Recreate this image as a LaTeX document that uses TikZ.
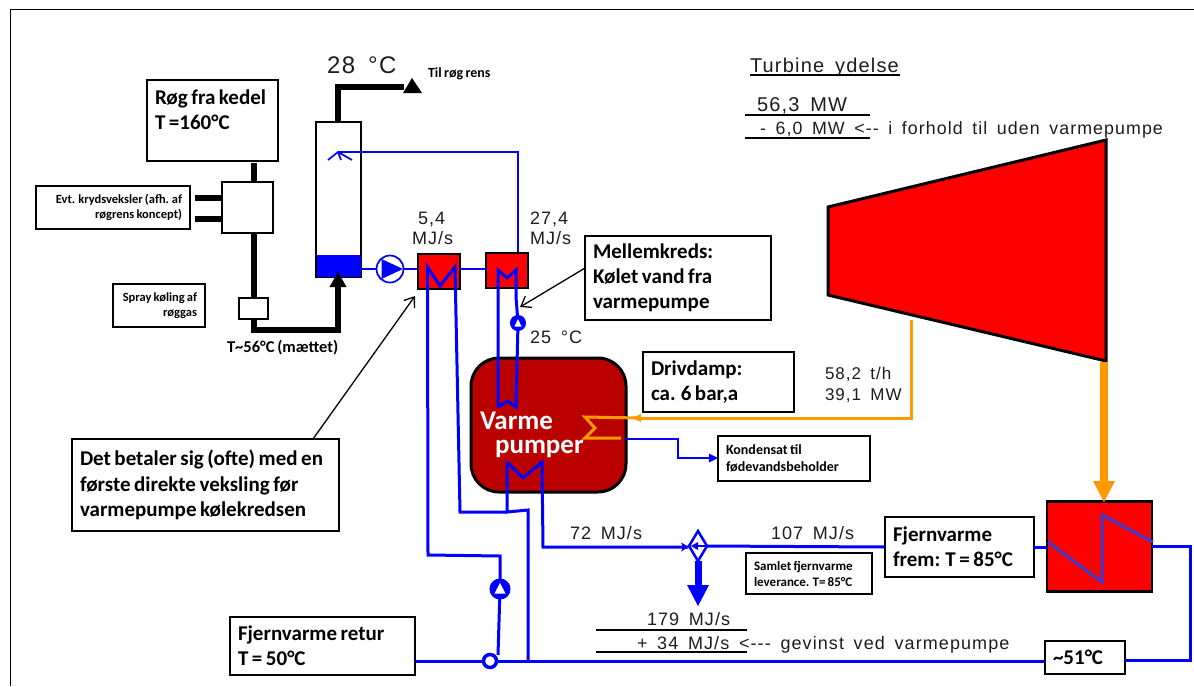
\documentclass[tikz,border=0pt]{standalone}
\usepackage{fontspec}
\setmainfont{Carlito}[WordSpace=0.75]
\newfontfamily\arialfont[LetterSpace=6,WordSpace=1.6]{Liberation Sans}
\usetikzlibrary{arrows.meta,calc}
\definecolor{fvblue}{HTML}{0000FF}
\definecolor{hxred}{HTML}{FF0000}
\definecolor{hpred}{HTML}{BB0000}
\definecolor{steam}{HTML}{FF9900}
\definecolor{coil}{HTML}{3A3ACF}
\definecolor{inktext}{HTML}{1C1C1C}
\newcommand{\lbox}[7]{% name,x1,y1,x2,y2,style,text
  \pgfmathsetlengthmacro{\bw}{(#4-#2)*1pt}%
  \pgfmathsetlengthmacro{\bh}{(#5-#3)*1pt}%
  \node[labelbox,#6,minimum width=\bw,minimum height=\bh,text width=\bw-16pt] (#1) at ({(#2+#4)/2},{(#3+#5)/2}) {#7};}
\tikzset{
  labelbox/.style={draw=black,line width=1.5pt,fill=white,inner xsep=8pt,inner ysep=0pt,outer sep=0pt,align=flush left,font=\bfseries\fontsize{21}{25.2}\selectfont},
  small/.style={font=\bfseries\fontsize{12.5}{15.5}\selectfont},
  mid/.style={font=\bfseries\fontsize{14}{17}\selectfont},
  rightal/.style={align=flush right},
  arial/.style={inner sep=0pt,outer sep=0pt,anchor=base west,text=inktext},
  free/.style={inner sep=0pt,outer sep=0pt,anchor=base west},
  flue/.style={line width=6pt,line join=miter},
  pipe/.style={draw=fvblue,line width=3pt,line join=miter},
  thinpipe/.style={draw=fvblue,line width=1.7pt},
  hx/.style={draw=black,fill=hxred,line width=2.5pt,outer sep=0pt,inner sep=0pt},
  steampipe/.style={draw=steam,line width=3pt},
  ruleline/.style={draw=black,line width=1.3pt},
  pointer/.style={draw=black,line width=1.3pt,-{Straight Barb[length=9pt,width=13pt,line width=1.3pt]}},
  pumpc/.style={circle,draw=fvblue,outer sep=0pt,inner sep=0pt,fill=white},
}
\begin{document}
\begin{tikzpicture}[x=1pt,y=-1pt]
\useasboundingbox (0,0) rectangle (1194,686);
% page frame
\draw[line width=1pt] (10.5,686) -- (10.5,9.5) -- (1194,9.5);

% flue gas
\lbox{rog}{147}{80}{278}{161}{}{Røg fra kedel\\T =160°C\\[-4pt]~}
\node[draw=black,line width=2.5pt,fill=white,minimum width=51pt,minimum height=51pt,inner sep=0pt,outer sep=0pt] (kryds) at (247.5,207.5) {};
\lbox{evt}{36}{186}{190}{229}{small,rightal}{Evt. krydsveksler (afh. af\\røgrens koncept)}
\lbox{spray}{113}{284}{205}{327}{small,rightal}{Spray køling af\\røggas}
\node[draw=black,line width=1.5pt,fill=white,minimum width=29pt,minimum height=21pt,inner sep=0pt,outer sep=0pt] (spr) at (253.5,308.5) {};
\node[draw=black,line width=2.5pt,fill=white,minimum width=45pt,minimum height=155pt,inner sep=0pt,outer sep=0pt] (col) at (338.5,199.5) {};
\fill[fvblue] (317,255) rectangle (361,277);
\draw[flue] (254,163) -- (254,182);
\draw[flue] (195,197.5) -- (kryds.west |- 0,197.5);
\draw[flue] (195,218.5) -- (kryds.west |- 0,218.5);
\draw[flue] (254,233) -- (254,298);
\coordinate (inlet) at (338,287);
\draw[flue] (254,319) -- (254,329.5) -- (338,329.5) -- (inlet);
\fill (inlet) ++(-8.5,0) -- (338,272) -- (346.5,287) -- cycle;
\coordinate (stack) at (404,87);
\draw[flue] (col.north -| 338,0) -- (338,87) -- (stack);
\fill (403,93) -- (412,78) -- (422,93) -- cycle;

% spray water to column
\draw[thinpipe] (338,152) -- (518,152) -- (518,253);
\draw[thinpipe] (328,160) -- (338,152) -- (352,160) (338,152) -- (341,160);

% pump and exchangers
\node[pumpc,line width=1.7pt,minimum size=27pt] (p1) at (390,269) {};
\fill[fvblue] (381.5,259) -- (403,269) -- (381.5,279) -- cycle;
\node[hx,minimum width=42pt,minimum height=35pt] (hx1) at (439,271.5) {};
\node[hx,minimum width=42pt,minimum height=35pt] (hx2) at (507,270.5) {};
\draw[thinpipe] (col.east |- p1) -- (p1);
\draw[thinpipe] (p1) -- (hx1.west |- p1);
\draw[thinpipe] (hx1.east |- 0,269) -- (hx2.west |- 0,269);

% heat pump
\node[draw=black,line width=3pt,fill=hpred,rounded corners=28pt,minimum width=155pt,minimum height=134pt,inner sep=0pt,outer sep=0pt] (hp) at (548.5,425) {};
\node[free,text=white,font=\bfseries\fontsize{27}{27}\selectfont] (hpa) at (480,429) {Varme};
\node[free,text=white,font=\bfseries\fontsize{27}{27}\selectfont] (hpb) at (495,453) {pumper};

% mid circuit
\node[pumpc,line width=3pt,minimum size=13pt,fill=white] (p2) at (518,323) {};
\fill[fvblue] (518,323) circle (7pt);
\fill[white] (514.5,326.5) -- (518,319) -- (521.5,326.5) -- cycle;
\draw[pipe] (498,407) -- (498,270) -- (507,278) -- (516,270) -- (516,297) -- (p2);
\draw[pipe] (p2) -- (516,407) -- (508,401) -- (498,407);

% first exchanger tubes
\node[pumpc,line width=3pt,minimum size=18pt,fill=white] (p3) at (500,589) {};
\fill[fvblue] (500,589) circle (10pt);
\fill[white] (494.5,593.5) -- (500,583) -- (505.5,593.5) -- cycle;
\node[circle,draw=fvblue,line width=3.5pt,fill=white,minimum size=13pt,inner sep=0pt,outer sep=0pt] (junc) at (490,661) {};
\coordinate (main) at (528,661);
\coordinate (jtop) at (498,655);
\draw[pipe] (jtop) -- (p3);
\draw[pipe] (p3) -- (500,556) -- (428,555) -- (427.5,267) -- (440,286) -- (455,267) -- (460,512) -- (507,512);
\draw[pipe] (507,462) -- (507,512) -- (528,510) -- (main);
\draw[pipe] (507,462) -- (523,478) -- (542,462) -- (543,547) -- (688,547);
\fill[fvblue] (689,547) -- (681,542.5) -- (683,547) -- (681,551.5) -- cycle;

% mixing diamond
\coordinate (dn) at (698,531);
\coordinate (de) at (707,546);
\coordinate (ds) at (698,561);
\coordinate (dw) at (689,546);
\draw[draw=fvblue,line width=2.5pt,fill=white] (dn) -- (de) -- (ds) -- (dw) -- cycle;
\draw[thinpipe,line width=1.5pt] (de) -- (695,546);
\fill[fvblue] (691,546) -- (698,542) -- (698,550) -- cycle;
\draw[draw=fvblue,line width=7pt] (ds) -- (698,586);
\fill[fvblue] (687,585) -- (709,585) -- (698,606) -- cycle;

% district heating
\lbox{frem}{885}{517}{1034}{577}{}{Fjernvarme\\frem: T = 85°C}
\lbox{samlet}{746}{553}{872}{594}{font=\bfseries\fontsize{13}{16}\selectfont}{Samlet fjernvarme\\leverance. T= 85°C}
\lbox{retur}{230}{617}{415}{675}{}{Fjernvarme retur\\T = 50°C}
\lbox{c51}{1045}{641}{1125}{674}{}{\textasciitilde 51°C}
\node[hx,minimum width=105pt,minimum height=90pt] (hx3) at (1099.5,546.5) {};
\draw[pipe] (de) -- (frem.west);
\draw[pipe] (frem.east) -- (hx3.west |- frem.east);
\draw[draw=coil,line width=3pt] (1048,542) -- (1102,582) -- (1102,515) -- (1153,542);
\draw[pipe] (hx3.east |- 0,546) -- (1190,546) -- (1190,660) -- (c51.east |- 0,660);
\draw[pipe] (retur.east |- junc) -- (junc);
\draw[pipe] (junc) -- (c51.west |- junc);

% turbine and steam
\coordinate (t1) at (828,207);
\coordinate (t2) at (1106,140);
\coordinate (t3) at (1106,361);
\coordinate (t4) at (828,295);
\draw[draw=black,fill=hxred,line width=3pt,line join=miter] (t1) -- (t2) -- (t3) -- (t4) -- cycle;
\draw[steampipe] (911,320) -- (911,418) -- (640,418);
\fill[steam] (632,418) -- (641,414) -- (641,422) -- cycle;
\draw[steampipe,line join=miter] (640,418) -- (585,417) -- (595,428) -- (585,438) -- (621,438);
\draw[draw=steam,line width=8pt] (1104,362) -- (1104,482);
\fill[steam] (1093,481) -- (1115,481) -- (1104,502) -- cycle;
\coordinate (hpout) at (626,438.5);
\draw[thinpipe,line width=2pt] (hpout) -- (678,438.5) -- (678,458) -- (710,458);
\fill[fvblue] (718,458) -- (709,453.5) -- (709,462.5) -- cycle;

% call-outs
\lbox{mell}{585}{236}{771}{320}{}{Mellemkreds:\\Kølet vand fra\\varmepumpe}
\lbox{driv}{643}{352}{794}{412}{}{Drivdamp:\\ca. 6 bar,a}
\lbox{kond}{718}{436}{870}{481}{mid}{Kondensat til\\fødevandsbeholder}
\lbox{det}{72}{439}{339}{531}{}{Det betaler sig (ofte) med en\\første direkte veksling før\\varmepumpe kølekredsen}
\coordinate (ptA) at (520,307);
\coordinate (ptB) at (415,296);
\draw[pointer] (mell.west |- 0,268) -- (ptA);
\draw[pointer] (det.north east |- 0,439) ++(-26,0) -- (ptB);

% free labels
\node[free,font=\bfseries\fontsize{14}{14}\selectfont] (til) at (428,77) {Til røg rens};
\node[free,font=\bfseries\fontsize{16.5}{16.5}\selectfont] (t56) at (227,352) {T\textasciitilde 56°C (mættet)};
\node[arial,font=\arialfont\fontsize{24}{24}\selectfont] (t28) at (327,73) {28 °C};
\node[arial,font=\arialfont\fontsize{18}{18}\selectfont] (l54a) at (418,224) {5,4};
\node[arial,font=\arialfont\fontsize{18}{18}\selectfont] (l54b) at (412,244) {MJ/s};
\node[arial,font=\arialfont\fontsize{18}{18}\selectfont] (l27a) at (530,224) {27,4};
\node[arial,font=\arialfont\fontsize{18}{18}\selectfont] (l27b) at (530,244) {MJ/s};
\node[arial,font=\arialfont\fontsize{18}{18}\selectfont] (l25) at (530,343) {25 °C};
\node[arial,font=\arialfont\fontsize{17}{17}\selectfont] (l58) at (825,379) {58,2 t/h};
\node[arial,font=\arialfont\fontsize{17}{17}\selectfont] (l39) at (825,400) {39,1 MW};
\node[arial,font=\arialfont\fontsize{18}{18}\selectfont] (l72) at (570,539) {72 MJ/s};
\node[arial,font=\arialfont\fontsize{18}{18}\selectfont] (l107) at (771,539) {107 MJ/s};
\node[arial,font=\arialfont\fontsize{18}{18}\selectfont] (l179) at (647,625) {179 MJ/s};
\node[arial,font=\arialfont\fontsize{18}{18}\selectfont] (l34) at (637,649) {+ 34 MJ/s <--- gevinst ved varmepumpe};
\node[arial,font=\arialfont\fontsize{20}{20}\selectfont] (lt) at (750,72) {Turbine ydelse};
\draw[ruleline] (750,75) -- (900,75);
\node[arial,font=\arialfont\fontsize{20}{20}\selectfont] (l56) at (757,111) {56,3 MW};
\node[arial,font=\arialfont\fontsize{17.8}{17.8}\selectfont] (l60) at (760,134) {- 6,0 MW <-- i forhold til uden varmepumpe};
\draw[ruleline] (745,115) -- (870,115);
\draw[ruleline,line width=1.8pt] (745,138) -- (870,138);
\draw[ruleline] (596,630) -- (747,630);
\draw[ruleline] (596,652) -- (747,652);
\end{tikzpicture}
\end{document}
